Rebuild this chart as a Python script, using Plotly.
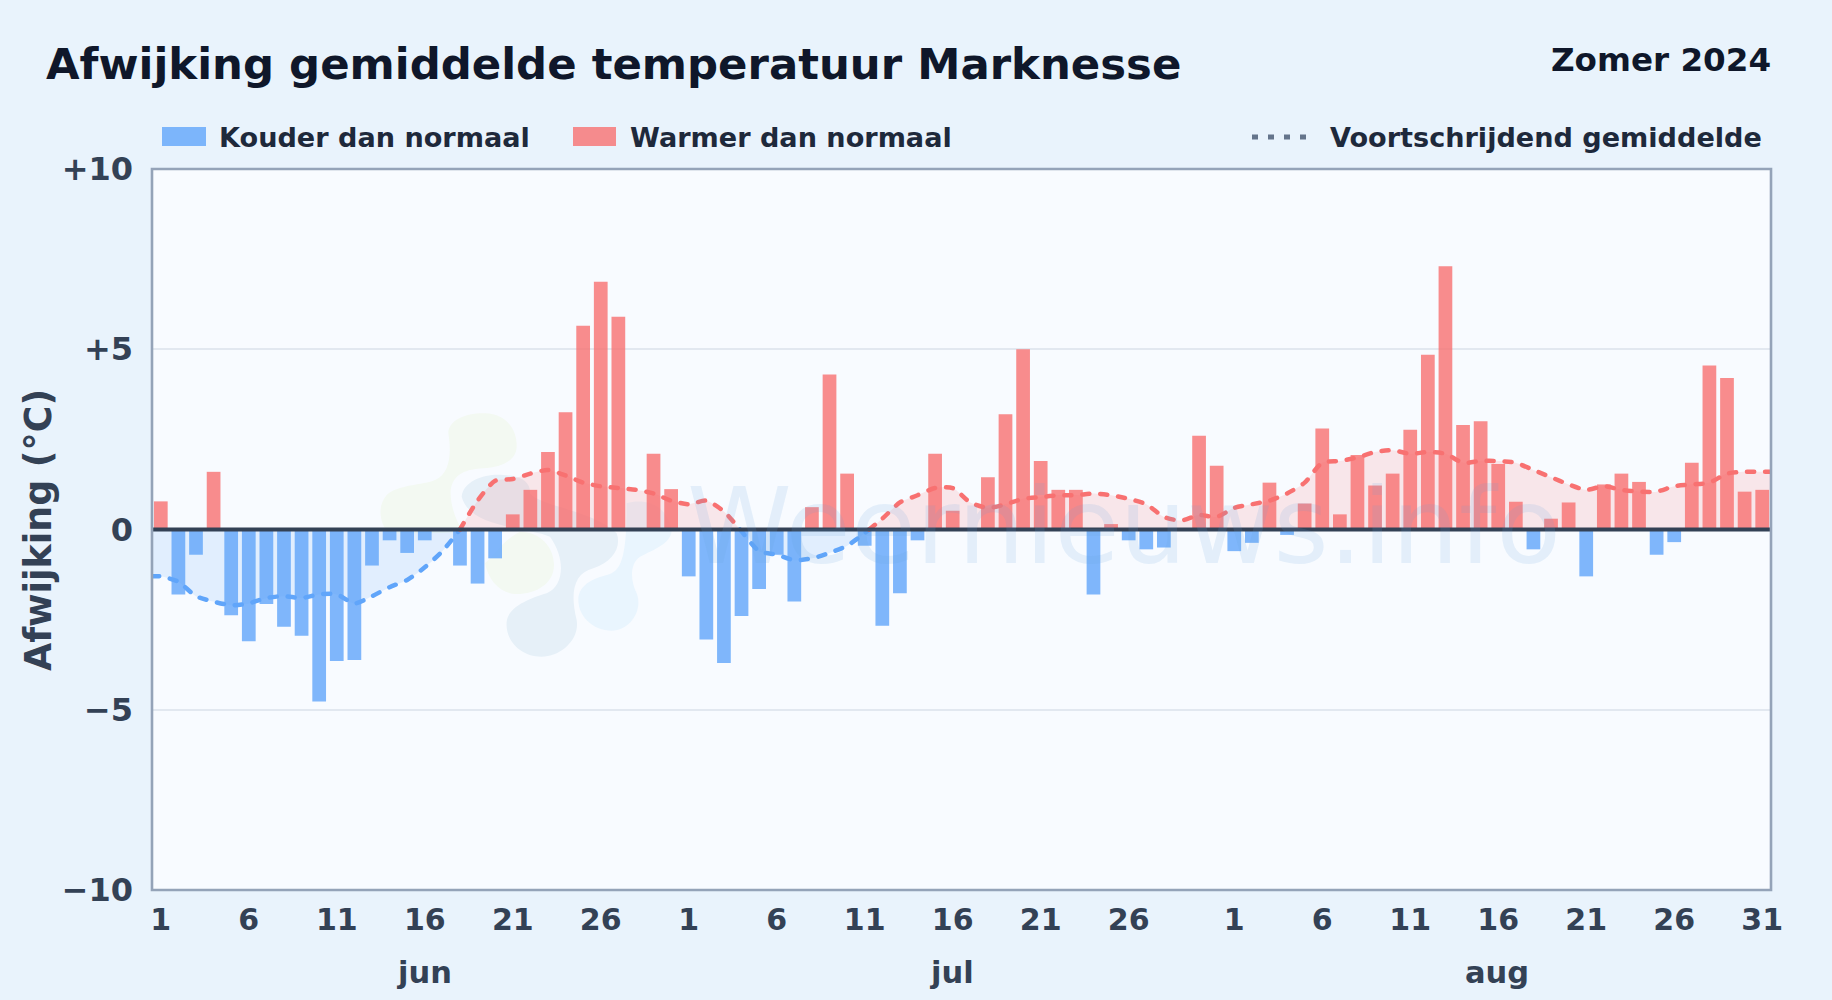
import plotly.graph_objects as go

TITLE = "Afwijking gemiddelde temperatuur Marknesse"
SEASON = "Zomer 2024"
Y_TITLE = "Afwijking (°C)"
LEGEND_COLD = "Kouder dan normaal"
LEGEND_WARM = "Warmer dan normaal"
LEGEND_AVG = "Voortschrijdend gemiddelde"
WATERMARK = "Weernieuws.info"

month_names = ["jun", "jul", "aug"]
month_lengths = [30, 31, 31]
month_label_index = [15, 45, 76]

june = [0.78, -1.8, -0.7, 1.6, -2.38, -3.1, -2.07, -2.7, -2.95, -4.77,
        -3.65, -3.62, -1.0, -0.3, -0.65, -0.3, None, -1.0, -1.5, -0.8,
        0.42, 1.1, 2.15, 3.25, 5.65, 6.87, 5.9, None, 2.1, 1.12]
july = [-1.3, -3.05, -3.7, -2.4, -1.65, -0.7, -2.0, 0.62, 4.3, 1.55,
        -0.45, -2.67, -1.77, -0.3, 2.1, 0.52, None, 1.45, 3.2, 5.0,
        1.9, 1.1, 1.1, -1.8, 0.15, -0.3, -0.55, -0.5, None, 2.6, 1.77]
august = [-0.6, -0.37, 1.3, -0.15, 0.72, 2.8, 0.42, 2.07, 1.22, 1.55,
          2.77, 4.85, 7.3, 2.9, 3.0, 1.82, 0.77, -0.55, 0.3, 0.75,
          -1.3, 1.25, 1.55, 1.32, -0.7, -0.35, 1.85, 4.55, 4.2, 1.05, 1.1]

avg_june = [-1.3, -1.45, -1.85, -2.0, -2.1, -2.05, -1.9, -1.85, -1.9, -1.8,
            -1.8, -2.05, -1.85, -1.6, -1.4, -1.05, -0.6, 0.0, 0.8, 1.35,
            1.4, 1.55, 1.65, 1.5, 1.3, 1.2, 1.15, 1.1, 1.0, 0.8]
avg_july = [0.7, 0.8, 0.5, -0.05, -0.6, -0.7, -0.85, -0.8, -0.65, -0.45,
            -0.1, 0.3, 0.75, 0.95, 1.15, 1.15, 0.75, 0.6, 0.7, 0.85,
            0.9, 0.95, 0.95, 1.0, 0.95, 0.85, 0.7, 0.35, 0.25, 0.4, 0.35]
avg_august = [0.6, 0.7, 0.8, 1.0, 1.3, 1.85, 1.9, 2.0, 2.15, 2.2,
              2.1, 2.15, 2.1, 1.85, 1.9, 1.9, 1.85, 1.65, 1.45, 1.25,
              1.1, 1.2, 1.1, 1.05, 1.05, 1.2, 1.25, 1.3, 1.55, 1.6, 1.6]

y_ticks = [10, 5, 0, -5, -10]
y_tick_labels = ["+10", "+5", "0", "−5", "−10"]
day_step = 5

values = june + july + august
avg = avg_june + avg_july + avg_august
n = len(values)
idx = list(range(n))

# x ticks: every 5th day per month plus month end
tick_pos, tick_txt = [], []
off = 0
for L in month_lengths:
    for d in range(1, L + 1, day_step):
        if d == 31 and L == 31 and off < 60:
            continue
        tick_pos.append(off + d - 1)
        tick_txt.append(str(d))
    off += L

# page geometry (pixels)
W, H = 1832, 1000
L_, R_, T_, B_ = 152, 1771, 169, 890
px = lambda x: (x - L_) / (R_ - L_)
py = lambda y: (B_ - y) / (B_ - T_)

INK = "#0f172a"
SUB = "#1e293b"
TICK = "#334155"
BLUE = "#60a5fa"
RED = "#f87171"

fig = go.Figure()

# bars
fig.add_trace(go.Bar(x=idx, y=[v if v is not None and v < 0 else None for v in values],
                     marker=dict(color=BLUE, opacity=0.8, line_width=0), width=0.78,
                     name=LEGEND_COLD, showlegend=False))
fig.add_trace(go.Bar(x=idx, y=[v if v is not None and v >= 0 else None for v in values],
                     marker=dict(color=RED, opacity=0.8, line_width=0), width=0.78,
                     name=LEGEND_WARM, showlegend=False))

# moving average split by sign; the ends run on to the axes
xs = [-0.5] + idx + [n - 0.5]
ys = [avg[0]] + avg + [avg[-1]]
segments = []
cur_x, cur_y = [xs[0]], [ys[0]]
for i in range(1, len(xs)):
    a, b = ys[i - 1], ys[i]
    if a * b < 0 or (a != 0 and b == 0):
        t = a / (a - b)
        cx = xs[i - 1] + t * (xs[i] - xs[i - 1])
        cur_x.append(cx); cur_y.append(0)
        segments.append((cur_x, cur_y))
        cur_x, cur_y = [cx], [0]
        if b != 0:
            cur_x.append(xs[i]); cur_y.append(b)
    else:
        cur_x.append(xs[i]); cur_y.append(b)
segments.append((cur_x, cur_y))

for sx, sy in segments:
    neg = min(sy) < 0
    fig.add_trace(go.Scatter(
        x=sx, y=sy, mode="lines", showlegend=False, name=LEGEND_AVG,
        line=dict(color=BLUE if neg else RED, width=4.5, dash="7px,11px", shape="spline", smoothing=0.7),
        fill="tozeroy", opacity=0.92,
        fillcolor="rgba(96,165,250,0.15)" if neg else "rgba(248,113,113,0.15)",
    ))


def blob(points):
    """points are (x, y) page pixels; first is M, then triples for C."""
    p = [f"{px(x):.5f},{py(y):.5f}" for x, y in points]
    s = "M " + p[0]
    for i in range(1, len(p), 3):
        s += " C " + " ".join(p[i:i + 3])
    return s + " Z"


z = lambda x, y: (360 + x / 3, 390 + y / 3)
blobs = [
    ("#f3f9f2", [z(265,130), z(265,90), z(320,68), z(375,70), z(440,72), z(472,120), z(470,170),
                 z(468,215), z(420,232), z(370,235), z(320,238), z(280,250), z(272,300),
                 z(270,340), z(285,390), z(310,425), z(240,430), z(160,430), z(85,430),
                 z(60,400), z(50,350), z(80,315), z(110,285), z(190,285), z(225,270),
                 z(270,250), z(275,190), z(265,130)]),
    ("#f3f9f2", [z(480,425), z(540,425), z(582,470), z(582,525), z(582,580), z(530,612), z(470,612),
                 z(420,612), z(385,570), z(375,520), z(400,500), z(430,450), z(480,425)]),
    ("#e6f0f8", [z(305,320), z(310,270), z(380,250), z(430,255), z(490,258), z(512,280), z(510,310),
                 z(540,350), z(700,360), z(770,430), z(785,470), z(760,515), z(700,535),
                 z(640,550), z(630,610), z(650,690), z(660,750), z(600,800), z(545,800),
                 z(480,800), z(435,750), z(440,695), z(445,650), z(510,625), z(560,610),
                 z(610,590), z(620,510), z(570,440), z(500,410), z(330,415), z(305,320)]),
    ("#e9f5fe", [z(800,340), z(850,325), z(920,340), z(935,420), z(935,460), z(880,480), z(840,500),
                 z(810,520), z(810,570), z(830,610), z(850,660), z(810,722), z(755,722),
                 z(700,722), z(655,680), z(655,630), z(655,585), z(700,565), z(740,555),
                 z(785,545), z(800,500), z(800,340)]),
]
shapes = [dict(type="path", xref="paper", yref="paper", path=blob(pts), fillcolor=col,
               line=dict(width=0), layer="below") for col, pts in blobs]

# zero line on top of the bars
shapes.append(dict(type="line", xref="paper", yref="y", x0=0, x1=1, y0=0, y1=0,
                   line=dict(color=TICK, width=3.8), layer="above"))
# plot frame
shapes.append(dict(type="rect", xref="paper", yref="paper", x0=0, x1=1, y0=0, y1=1,
                   line=dict(color="#94a3b8", width=2.6), layer="above"))
# legend swatches
shapes.append(dict(type="rect", xref="paper", yref="paper", x0=px(162), x1=px(206), y0=py(146), y1=py(127),
                   fillcolor=BLUE, opacity=0.8, line=dict(width=0)))
shapes.append(dict(type="rect", xref="paper", yref="paper", x0=px(573), x1=px(616), y0=py(146), y1=py(127),
                   fillcolor=RED, opacity=0.8, line=dict(width=0)))
shapes.append(dict(type="line", xref="paper", yref="paper", x0=px(1252), x1=px(1308), y0=py(137), y1=py(137),
                   line=dict(color="#64748b", width=5, dash="6px,10px")))

F = "DejaVu Sans"
def text(x, y, s, size, color, xanchor="left", **kw):
    return dict(xref="paper", yref="paper", x=px(x), y=py(y), text=s, showarrow=False,
                xanchor=xanchor, yanchor="middle", font=dict(family=F, size=size, color=color, weight=700),
                **kw)

annotations = [
    text(1773, 60, SEASON, 32.6, INK, "right"),
    text(217, 137, LEGEND_COLD, 27.1, SUB),
    text(628, 137, LEGEND_WARM, 27.1, SUB),
    text(1328, 137, LEGEND_AVG, 27.1, SUB),
    text(38, 530, Y_TITLE, 36.4, TICK, "center", textangle=-90),
    dict(xref="paper", yref="paper", x=px(1124), y=py(526), text=WATERMARK, showarrow=False,
         xanchor="center", yanchor="middle",
         font=dict(family=F, size=106, color="rgba(100,160,220,0.14)")),
]
for name, i in zip(month_names, month_label_index):
    annotations.append(dict(xref="x", yref="paper", x=i, y=py(972), text=name, showarrow=False,
                            xanchor="center", yanchor="middle", xshift=-1,
                            font=dict(family=F, size=30.5, color=TICK, weight=700)))

fig.update_layout(
    width=W, height=H, autosize=False,
    margin=dict(l=L_, r=W - R_, t=T_, b=H - B_, pad=0),
    paper_bgcolor="#e9f3fc", plot_bgcolor="#f8fbff",
    barmode="overlay", showlegend=False, hovermode=False,
    title=dict(text=TITLE, x=46 / W, xanchor="left", y=1 - 64 / H, yanchor="middle",
               font=dict(family=F, size=43.4, color=INK, weight=700)),
    shapes=shapes, annotations=annotations,
    xaxis=dict(range=[-0.5, n - 0.5], tickmode="array", tickvals=tick_pos, ticktext=tick_txt,
               showgrid=False, zeroline=False, ticks="", showline=False,
               ticklabelstandoff=9,
               tickfont=dict(family=F, size=30, color=TICK, weight=700)),
    yaxis=dict(range=[-10, 10], tickmode="array", tickvals=y_ticks, ticktext=y_tick_labels,
               showgrid=True, gridcolor="#e2e8f0", gridwidth=2, zeroline=False, ticks="",
               showline=False, ticklabelstandoff=18,
               tickfont=dict(family=F, size=32, color=TICK, weight=700)),
)

fig.write_html("out.html", config={"displayModeBar": False},
               post_script="document.body.style.margin='0';document.body.style.background='#e9f3fc';"
                           "var s=document.createElement('style');"
                           "s.textContent='.scatterlayer .js-line{stroke-linecap:round}';"
                           "document.head.appendChild(s);")
